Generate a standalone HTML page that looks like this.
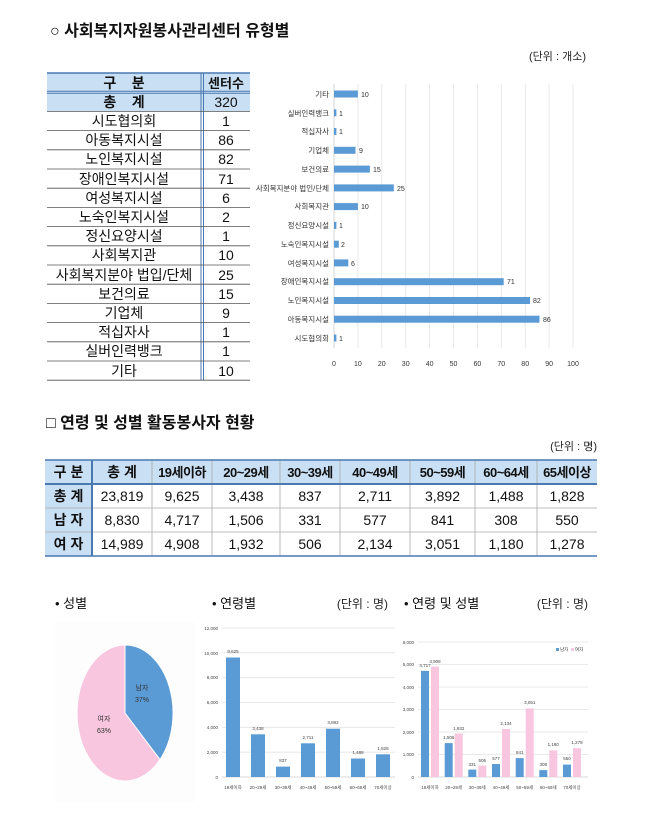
<!DOCTYPE html>
<html><head><meta charset="utf-8"><style>
body{margin:0;background:#fff;}
svg{display:block;font-family:"Liberation Sans","Noto Sans CJK KR",sans-serif;}
</style></head><body>
<svg width="666" height="828" viewBox="0 0 666 828" xmlns="http://www.w3.org/2000/svg">
<rect width="666" height="828" fill="#fff"/>
<text x="50" y="36" font-size="16" font-weight="bold" fill="#111">○ 사회복지자원봉사관리센터 유형별</text>
<text x="586" y="60" font-size="11" fill="#222" text-anchor="end">(단위 : 개소)</text>

<g font-size="14" fill="#111" text-anchor="middle">
<rect x="47" y="73" width="203" height="38.4" fill="#c9dff4"/>
<line x1="47" y1="73" x2="250" y2="73" stroke="#4a78b0" stroke-width="1.5"/>
<line x1="47" y1="91.2" x2="250" y2="91.2" stroke="#4a78b0" stroke-width="1"/>
<line x1="47" y1="93.2" x2="250" y2="93.2" stroke="#4a78b0" stroke-width="1"/>
<line x1="201" y1="73" x2="201" y2="380" stroke="#4a78b0" stroke-width="1"/>
<line x1="203.5" y1="73" x2="203.5" y2="380" stroke="#4a78b0" stroke-width="1"/>
<g stroke="#555" stroke-width="0.8">
<line x1="47" y1="111.4" x2="250" y2="111.4"/><line x1="47" y1="130.6" x2="250" y2="130.6"/>
<line x1="47" y1="149.8" x2="250" y2="149.8"/><line x1="47" y1="169" x2="250" y2="169"/>
<line x1="47" y1="188.2" x2="250" y2="188.2"/><line x1="47" y1="207.4" x2="250" y2="207.4"/>
<line x1="47" y1="226.6" x2="250" y2="226.6"/><line x1="47" y1="245.8" x2="250" y2="245.8"/>
<line x1="47" y1="265" x2="250" y2="265"/><line x1="47" y1="284.2" x2="250" y2="284.2"/>
<line x1="47" y1="303.4" x2="250" y2="303.4"/><line x1="47" y1="322.6" x2="250" y2="322.6"/>
<line x1="47" y1="341.8" x2="250" y2="341.8"/><line x1="47" y1="361" x2="250" y2="361"/>
<line x1="47" y1="380.2" x2="250" y2="380.2"/>
</g>
<text x="124" y="88" font-weight="bold">구&#160;&#160;&#160;&#160;분</text><text x="226" y="88" font-weight="bold" font-size="13">센터수</text>
<text x="124" y="107" font-weight="bold">총&#160;&#160;&#160;&#160;계</text><text x="226" y="107">320</text>
<text x="124" y="126">시도협의회</text><text x="226" y="126">1</text>
<text x="124" y="145">아동복지시설</text><text x="226" y="145">86</text>
<text x="124" y="164">노인복지시설</text><text x="226" y="164">82</text>
<text x="124" y="184">장애인복지시설</text><text x="226" y="184">71</text>
<text x="124" y="203">여성복지시설</text><text x="226" y="203">6</text>
<text x="124" y="222">노숙인복지시설</text><text x="226" y="222">2</text>
<text x="124" y="241">정신요양시설</text><text x="226" y="241">1</text>
<text x="124" y="260">사회복지관</text><text x="226" y="260">10</text>
<text x="124" y="280">사회복지분야 법입/단체</text><text x="226" y="280">25</text>
<text x="124" y="299">보건의료</text><text x="226" y="299">15</text>
<text x="124" y="318">기업체</text><text x="226" y="318">9</text>
<text x="124" y="337">적십자사</text><text x="226" y="337">1</text>
<text x="124" y="356">실버인력뱅크</text><text x="226" y="356">1</text>
<text x="124" y="376">기타</text><text x="226" y="376">10</text>
</g>

<g stroke="#e3e3e3" stroke-width="0.8">
<line x1="357.9" y1="84" x2="357.9" y2="348"/><line x1="381.8" y1="84" x2="381.8" y2="348"/>
<line x1="405.7" y1="84" x2="405.7" y2="348"/><line x1="429.6" y1="84" x2="429.6" y2="348"/>
<line x1="453.5" y1="84" x2="453.5" y2="348"/><line x1="477.4" y1="84" x2="477.4" y2="348"/>
<line x1="501.3" y1="84" x2="501.3" y2="348"/><line x1="525.2" y1="84" x2="525.2" y2="348"/>
<line x1="549.1" y1="84" x2="549.1" y2="348"/><line x1="573" y1="84" x2="573" y2="348"/>
</g>
<line x1="334" y1="84" x2="334" y2="348" stroke="#ccc" stroke-width="0.8"/>
<g fill="#5b9bd5">
<rect x="334" y="90.5" width="23.9" height="7"/><rect x="334" y="109.3" width="2.4" height="7"/>
<rect x="334" y="128" width="2.4" height="7"/><rect x="334" y="146.8" width="21.5" height="7"/>
<rect x="334" y="165.6" width="35.9" height="7"/><rect x="334" y="184.4" width="59.8" height="7"/>
<rect x="334" y="203.1" width="23.9" height="7"/><rect x="334" y="221.9" width="2.4" height="7"/>
<rect x="334" y="240.7" width="4.8" height="7"/><rect x="334" y="259.4" width="14.3" height="7"/>
<rect x="334" y="278.2" width="169.7" height="7"/><rect x="334" y="297" width="196" height="7"/>
<rect x="334" y="315.7" width="205.5" height="7"/><rect x="334" y="334.5" width="2.4" height="7"/>
</g>
<g font-size="7.5" fill="#333" text-anchor="end">
<text x="329" y="97">기타</text><text x="329" y="116">실버인력뱅크</text><text x="329" y="134">적십자사</text>
<text x="329" y="153">기업체</text><text x="329" y="172">보건의료</text><text x="329" y="191">사회복지분야 법인/단체</text>
<text x="329" y="209">사회복지관</text><text x="329" y="228">정신요양시설</text><text x="329" y="247">노숙인복지시설</text>
<text x="329" y="266">여성복지시설</text><text x="329" y="284">장애인복지시설</text><text x="329" y="303">노인복지시설</text>
<text x="329" y="322">아동복지시설</text><text x="329" y="341">시도협의회</text>
</g>
<g font-size="7" fill="#333">
<text x="361" y="97">10</text><text x="339" y="116">1</text><text x="339" y="134">1</text><text x="359" y="153">9</text>
<text x="373" y="172">15</text><text x="397" y="191">25</text><text x="361" y="209">10</text><text x="339" y="228">1</text>
<text x="341" y="247">2</text><text x="351" y="266">6</text><text x="507" y="284">71</text><text x="533" y="303">82</text>
<text x="543" y="322">86</text><text x="339" y="341">1</text>
</g>
<g font-size="7" fill="#333" text-anchor="middle">
<text x="334" y="366">0</text><text x="357.9" y="366">10</text><text x="381.8" y="366">20</text><text x="405.7" y="366">30</text>
<text x="429.6" y="366">40</text><text x="453.5" y="366">50</text><text x="477.4" y="366">60</text><text x="501.3" y="366">70</text>
<text x="525.2" y="366">80</text><text x="549.1" y="366">90</text><text x="573" y="366">100</text>
</g>

<text x="46" y="428" font-size="16" font-weight="bold" fill="#111">□ 연령 및 성별 활동봉사자 현황</text>
<text x="597" y="450" font-size="11" fill="#222" text-anchor="end">(단위 : 명)</text>

<rect x="45" y="460" width="552" height="24" fill="#c9dff4"/>
<rect x="45" y="484" width="47" height="72" fill="#c9dff4"/>
<g stroke="#aaa" stroke-width="0.8">
<line x1="45" y1="508" x2="597" y2="508"/><line x1="45" y1="532" x2="597" y2="532"/>
<line x1="152" y1="460" x2="152" y2="556"/><line x1="212" y1="460" x2="212" y2="556"/>
<line x1="280" y1="460" x2="280" y2="556"/><line x1="340" y1="460" x2="340" y2="556"/>
<line x1="410" y1="460" x2="410" y2="556"/><line x1="475" y1="460" x2="475" y2="556"/>
<line x1="537" y1="460" x2="537" y2="556"/>
</g>
<line x1="45" y1="460" x2="597" y2="460" stroke="#4a78b0" stroke-width="1.5"/>
<line x1="45" y1="484" x2="597" y2="484" stroke="#4a78b0" stroke-width="2"/>
<line x1="45" y1="556" x2="597" y2="556" stroke="#4a78b0" stroke-width="1.5"/>
<line x1="92" y1="460" x2="92" y2="556" stroke="#4a78b0" stroke-width="2"/>
<g font-size="14" fill="#111" text-anchor="middle">
<g font-weight="bold">
<text x="68.5" y="477">구 분</text><text x="122" y="477">총 계</text>
<text x="68.5" y="501">총 계</text><text x="68.5" y="525">남 자</text><text x="68.5" y="549">여 자</text>
</g>
<g font-size="13" font-weight="bold" letter-spacing="-0.5">
<text x="182" y="477">19세이하</text><text x="246" y="477">20~29세</text><text x="310" y="477">30~39세</text>
<text x="375" y="477">40~49세</text><text x="442.5" y="477">50~59세</text><text x="506" y="477">60~64세</text><text x="567" y="477">65세이상</text>
</g>
<text x="122" y="501">23,819</text><text x="182" y="501">9,625</text><text x="246" y="501">3,438</text><text x="310" y="501">837</text>
<text x="375" y="501">2,711</text><text x="442.5" y="501">3,892</text><text x="506" y="501">1,488</text><text x="567" y="501">1,828</text>
<text x="122" y="525">8,830</text><text x="182" y="525">4,717</text><text x="246" y="525">1,506</text><text x="310" y="525">331</text>
<text x="375" y="525">577</text><text x="442.5" y="525">841</text><text x="506" y="525">308</text><text x="567" y="525">550</text>
<text x="122" y="549">14,989</text><text x="182" y="549">4,908</text><text x="246" y="549">1,932</text><text x="310" y="549">506</text>
<text x="375" y="549">2,134</text><text x="442.5" y="549">3,051</text><text x="506" y="549">1,180</text><text x="567" y="549">1,278</text>
</g>

<text x="55" y="608" font-size="13" fill="#111">• 성별</text>
<rect x="55" y="622" width="140" height="180" fill="#fdfdfd"/>
<ellipse cx="125" cy="713" rx="48" ry="68" fill="#f8c6df" stroke="#fff" stroke-width="1"/>
<path d="M125,713 L125,645 A48,68 0 0 1 160,759.6 Z" fill="#5b9bd5" stroke="#fff" stroke-width="1"/>
<g font-size="7" fill="#333" text-anchor="middle">
<text x="142" y="690">남자</text><text x="142" y="702">37%</text>
<text x="104" y="721">여자</text><text x="104" y="733">63%</text>
</g>

<text x="212" y="608" font-size="13" fill="#111">• 연령별</text>
<text x="388" y="608" font-size="12" fill="#222" text-anchor="end">(단위 : 명)</text>
<g stroke="#e3e3e3" stroke-width="0.8">
<line x1="222" y1="752.2" x2="395" y2="752.2"/><line x1="222" y1="727.3" x2="395" y2="727.3"/>
<line x1="222" y1="702.5" x2="395" y2="702.5"/><line x1="222" y1="677.7" x2="395" y2="677.7"/>
<line x1="222" y1="652.8" x2="395" y2="652.8"/><line x1="222" y1="628" x2="395" y2="628"/>
</g>
<line x1="222" y1="777" x2="395" y2="777" stroke="#ccc" stroke-width="0.8"/>
<g fill="#5b9bd5">
<rect x="226" y="657.5" width="14" height="119.5"/><rect x="251" y="734.3" width="14" height="42.7"/>
<rect x="276" y="766.6" width="14" height="10.4"/><rect x="301" y="743.3" width="14" height="33.7"/>
<rect x="326" y="728.7" width="14" height="48.3"/><rect x="351" y="758.5" width="14" height="18.5"/>
<rect x="376" y="754.3" width="14" height="22.7"/>
</g>
<g font-size="4.5" fill="#444" text-anchor="end">
<text x="218" y="779">0</text><text x="218" y="754">2,000</text><text x="218" y="729">4,000</text>
<text x="218" y="704">6,000</text><text x="218" y="679">8,000</text><text x="218" y="655">10,000</text><text x="218" y="630">12,000</text>
</g>
<g font-size="4.5" fill="#444" text-anchor="middle">
<text x="233" y="653">9,625</text><text x="258" y="730">3,438</text><text x="283" y="762">837</text>
<text x="308" y="739">2,711</text><text x="333" y="724">3,892</text><text x="358" y="754">1,488</text><text x="383" y="750">1,828</text>
<text x="233" y="789">19세이하</text><text x="258" y="789">20~29세</text><text x="283" y="789">30~39세</text>
<text x="308" y="789">40~49세</text><text x="333" y="789">50~59세</text><text x="358" y="789">60~69세</text><text x="383" y="789">70세이상</text>
</g>

<text x="404" y="608" font-size="13" fill="#111">• 연령 및 성별</text>
<text x="588" y="608" font-size="12" fill="#222" text-anchor="end">(단위 : 명)</text>
<g stroke="#e3e3e3" stroke-width="0.8">
<line x1="418" y1="754.5" x2="588" y2="754.5"/><line x1="418" y1="732" x2="588" y2="732"/>
<line x1="418" y1="709.5" x2="588" y2="709.5"/><line x1="418" y1="687" x2="588" y2="687"/>
<line x1="418" y1="664.5" x2="588" y2="664.5"/><line x1="418" y1="642" x2="588" y2="642"/>
</g>
<line x1="418" y1="777" x2="588" y2="777" stroke="#ccc" stroke-width="0.8"/>
<g fill="#5b9bd5">
<rect x="421" y="670.9" width="8" height="106.1"/><rect x="444.7" y="743.1" width="8" height="33.9"/>
<rect x="468.3" y="769.6" width="8" height="7.4"/><rect x="492" y="764" width="8" height="13"/>
<rect x="515.7" y="758.1" width="8" height="18.9"/><rect x="539.3" y="770.1" width="8" height="6.9"/>
<rect x="563" y="764.6" width="8" height="12.4"/>
</g>
<g fill="#f8c6df">
<rect x="431" y="666.6" width="8" height="110.4"/><rect x="454.7" y="733.5" width="8" height="43.5"/>
<rect x="478.3" y="765.6" width="8" height="11.4"/><rect x="502" y="729" width="8" height="48"/>
<rect x="525.7" y="708.4" width="8" height="68.6"/><rect x="549.3" y="750.4" width="8" height="26.6"/>
<rect x="573" y="748.2" width="8" height="28.8"/>
</g>
<g font-size="4.5" fill="#444" text-anchor="end">
<text x="414" y="779">0</text><text x="414" y="756">1,000</text><text x="414" y="734">2,000</text>
<text x="414" y="711">3,000</text><text x="414" y="689">4,000</text><text x="414" y="666">5,000</text><text x="414" y="644">6,000</text>
</g>
<rect x="556" y="648" width="3" height="3" fill="#5b9bd5"/><rect x="571" y="648" width="3" height="3" fill="#f8c6df"/>
<g font-size="4.5" fill="#444">
<text x="560" y="651">남자</text><text x="575" y="651">여자</text>
</g>
<g font-size="4.5" fill="#444" text-anchor="middle">
<text x="425" y="667">4,717</text><text x="435" y="663">4,908</text>
<text x="448.7" y="739">1,506</text><text x="458.7" y="730">1,932</text>
<text x="472.3" y="766">331</text><text x="482.3" y="762">506</text>
<text x="496" y="760">577</text><text x="506" y="725">2,134</text>
<text x="519.7" y="754">841</text><text x="529.7" y="704">3,051</text>
<text x="543.3" y="766">308</text><text x="553.3" y="746">1,180</text>
<text x="567" y="760">550</text><text x="577" y="744">1,278</text>
<text x="430" y="789">19세이하</text><text x="453.7" y="789">20~29세</text><text x="477.3" y="789">30~39세</text>
<text x="501" y="789">40~49세</text><text x="524.7" y="789">50~59세</text><text x="548.3" y="789">60~69세</text><text x="572" y="789">70세이상</text>
</g>
</svg>
</body></html>
